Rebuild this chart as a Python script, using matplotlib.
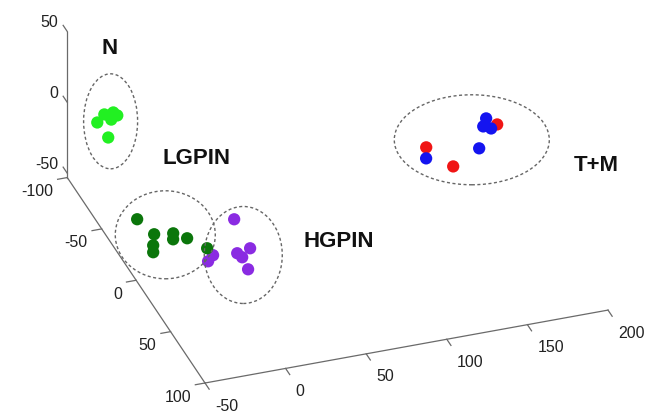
import matplotlib
matplotlib.use("Agg")
import matplotlib.pyplot as plt
import numpy as np
from matplotlib.patches import Ellipse
from mpl_toolkits.mplot3d import proj3d

# PCA scores per group (x, y, z)
n_x = [-37.8, -37.7, -30.0, -31.8, -27.0, -34.0]
n_y = [-85, -75, -80, -70, -90, -78]
n_z = [-5.8, 7.1, 3.3, 8.8, -9.6, -12.1]

lg_x = [-45.1, -36.7, -34.3, -36.0, -20.6, -24.5, -14.1, -5.1]
lg_y = [-10, -5, -12, -8, -15, -6, -10, -2]
lg_z = [-18.2, -26.9, -40.3, -41.9, -36.8, -33.7, -38.0, -41.1]

hg_x = [4.4, 11.3, 5.0, 5.1, 10.9, -7.4, -12.2]
hg_y = [15, 22, 18, 25, 20, 12, 16]
hg_z = [-10.3, -27.1, -32.2, -30.0, -43.3, -35.4, -35.8]

t_x = [177.8, 173.0, 179.6, 169.2, 142.7]
t_y = [-25, -18, -22, -15, -30]
t_z = [-3.8, -3.4, -9.1, -15.9, -28.4]

m_x = [182.5, 141.9, 151.8]
m_y = [-20, -28, -12]
m_z = [-5.4, -19.0, -22.9]

x_ticks = [-50, 0, 50, 100, 150, 200]
y_ticks = [-100, -50, 0, 50, 100]
z_ticks = [-50, 0, 50]
xlim = (-50, 200)
ylim = (-100, 100)
zlim = (-53, 50)

W, H = 648, 415
fig = plt.figure(figsize=(W / 100, H / 100), dpi=100)
ax = fig.add_axes([0, 0, 1, 1], projection="3d")
ax.set_proj_type("ortho")
ax.set_xlim(*xlim)
ax.set_ylim(ylim[1], ylim[0])
ax.set_zlim(*zlim)
ax.set_box_aspect((427, 419, 171))
ax.view_init(elev=31.3, azim=-109.2)
ax.set_axis_off()
ax.computed_zorder = False


def to_px(x, y, z):
    xp, yp, _ = proj3d.proj_transform(np.atleast_1d(x), np.atleast_1d(y),
                                      np.atleast_1d(z), ax.get_proj())
    return ax.transData.transform(np.column_stack([xp, yp]))


# fit the 3d box onto the picture: front corner and end of x axis
fig.canvas.draw()
t0 = np.array([205, H - 383])
t1 = np.array([608, H - 310])
p0 = to_px(xlim[0], ylim[1], zlim[0])[0]
p1 = to_px(xlim[1], ylim[1], zlim[0])[0]
f = np.hypot(*(t1 - t0)) / np.hypot(*(p1 - p0))
bb = ax.get_position()
L0 = np.array([bb.x0 * W, bb.y0 * H])
S0 = bb.width * W
S = S0 * f
L = t0 - S * (p0 - L0) / S0
ax.set_position([L[0] / W, L[1] / H, S / W, S / H])
fig.canvas.draw()

# axis lines and ticks
axc = "#6a6a6a"
ax.plot([xlim[0]] * 2, [ylim[0]] * 2, zlim, color=axc, lw=0.9)
ax.plot([xlim[0]] * 2, ylim, [zlim[0]] * 2, color=axc, lw=0.9)
ax.plot(xlim, [ylim[1]] * 2, [zlim[0]] * 2, color=axc, lw=0.9)
for z in z_ticks:
    ax.plot([xlim[0]] * 2, [ylim[0], ylim[0] - 6], [z, z], color=axc, lw=0.9)
for y in y_ticks:
    ax.plot([xlim[0], xlim[0] - 6], [y, y], [zlim[0]] * 2, color=axc, lw=0.9)
for x in x_ticks:
    ax.plot([x, x], [ylim[1], ylim[1] + 6], [zlim[0]] * 2, color=axc, lw=0.9)

# points
ms = 78
ax.scatter(hg_x, hg_y, hg_z, s=ms, c="#8a2be2", edgecolors="none", depthshade=False, zorder=3)
ax.scatter(lg_x, lg_y, lg_z, s=ms, c="#0b760b", edgecolors="none", depthshade=False, zorder=4)
ax.scatter(n_x, n_y, n_z, s=ms, c="#22f022", edgecolors="none", depthshade=False, zorder=4)
ax.scatter(m_x, m_y, m_z, s=ms, c="#f01515", edgecolors="none", depthshade=False, zorder=4)
ax.scatter(t_x, t_y, t_z, s=ms, c="#1414f0", edgecolors="none", depthshade=False, zorder=5)

# tick labels
tick_kw = dict(fontsize=11.5, family="Liberation Sans", color="#222222")
for z in z_ticks:
    p = to_px(xlim[0], ylim[0], z)[0]
    fig.text((p[0] - 9) / W, (p[1] + 9) / H, f"{z}", ha="right", va="center", **tick_kw)
for y in y_ticks:
    p = to_px(xlim[0], y, zlim[0])[0]
    fig.text((p[0] - 14) / W, (p[1] - 14) / H, f"{y}", ha="right", va="center", **tick_kw)
for x in x_ticks:
    p = to_px(x, ylim[1], zlim[0])[0]
    fig.text((p[0] + 10) / W, (p[1] - 23) / H, f"{x}", ha="left", va="center", **tick_kw)

# dashed group outlines around each cluster
groups = [
    (n_x, n_y, n_z, 54, 95, (2, -1)),
    (lg_x, lg_y, lg_z, 100, 88, (-2, 4)),
    (hg_x, hg_y, hg_z, 78, 97, (10, -3)),
    (t_x + m_x, t_y + m_y, t_z + m_z, 155, 90, (4, 0)),
]
for gx, gy, gz, w, h, off in groups:
    c = to_px(gx, gy, gz).mean(axis=0)
    e = Ellipse(((c[0] + off[0]) / W, (c[1] + off[1]) / H), w / W, h / H,
                transform=fig.transFigure, fill=False, ec="#666666",
                lw=1.0, ls=(0, (2.2, 1.8)))
    fig.add_artist(e)

lab_kw = dict(fontsize=16, family="Liberation Sans", fontweight="bold",
              ha="center", va="center", color="#111111")
fig.text(110 / W, 1 - 48 / H, "N", **lab_kw)
fig.text(197 / W, 1 - 158 / H, "LGPIN", **lab_kw)
fig.text(339 / W, 1 - 241 / H, "HGPIN", **lab_kw)
fig.text(596 / W, 1 - 165 / H, "T+M", **lab_kw)

fig.savefig("out.png", dpi=100)
